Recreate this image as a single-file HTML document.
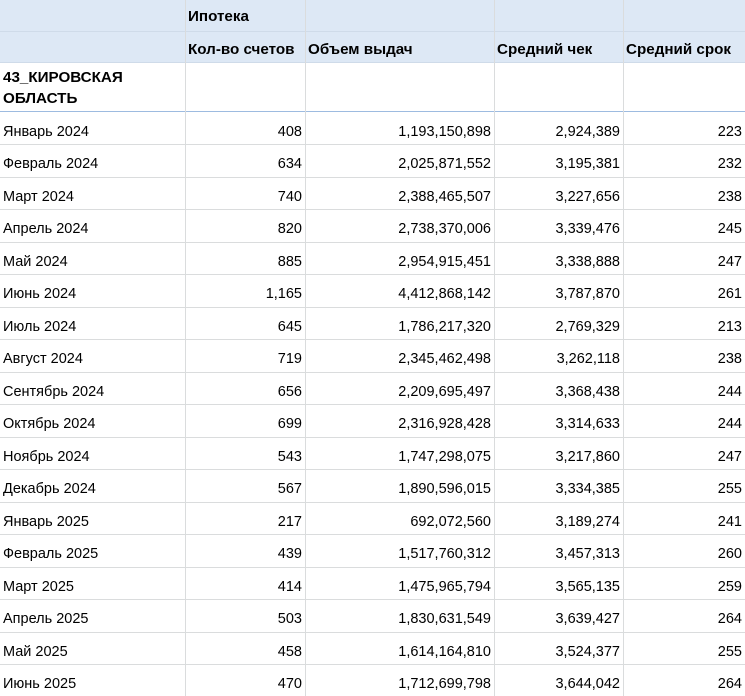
<!DOCTYPE html>
<html><head><meta charset="utf-8"><style>
body{margin:0;width:745px;height:696px;overflow:hidden;background:#fff;font-family:"Liberation Sans","DejaVu Sans",sans-serif;font-size:14.5px;color:#000}
.hd{position:absolute;left:0;top:0;width:745px;height:62px;background:#dde8f5}
.t{position:absolute;white-space:nowrap;line-height:20px}
.r{text-align:right}
.b{font-weight:bold;font-size:15.2px}
.v{position:absolute;width:1px;background:#dadcdd}
.h{position:absolute;left:0;width:745px;height:1px;background:#dadcdd}
</style></head><body>
<div class="hd"></div>
<div class="h" style="top:31px;background:#cfdbe9"></div>
<div class="h" style="top:62px;background:#cfdbe9"></div>
<div class="h" style="top:111px;background:#9dbbe0"></div>
<div class="v" style="left:185px;top:0;height:696px"></div>
<div class="v" style="left:305px;top:0;height:696px"></div>
<div class="v" style="left:494px;top:0;height:696px"></div>
<div class="v" style="left:623px;top:0;height:696px"></div>
<div class="t b" style="left:188px;top:7px">Ипотека</div>
<div class="t b" style="left:188px;top:40px">Кол-во счетов</div>
<div class="t b" style="left:308px;top:40px">Объем выдач</div>
<div class="t b" style="left:497px;top:40px">Средний чек</div>
<div class="t b" style="left:626px;top:40px">Средний срок</div>
<div class="t b" style="left:3px;top:68px">43_КИРОВСКАЯ</div>
<div class="t b" style="left:3px;top:89px">ОБЛАСТЬ</div>
<div id="rows"></div>
<script>
var d=[["Январь 2024","408","1,193,150,898","2,924,389","223"],["Февраль 2024","634","2,025,871,552","3,195,381","232"],["Март 2024","740","2,388,465,507","3,227,656","238"],["Апрель 2024","820","2,738,370,006","3,339,476","245"],["Май 2024","885","2,954,915,451","3,338,888","247"],["Июнь 2024","1,165","4,412,868,142","3,787,870","261"],["Июль 2024","645","1,786,217,320","2,769,329","213"],["Август 2024","719","2,345,462,498","3,262,118","238"],["Сентябрь 2024","656","2,209,695,497","3,368,438","244"],["Октябрь 2024","699","2,316,928,428","3,314,633","244"],["Ноябрь 2024","543","1,747,298,075","3,217,860","247"],["Декабрь 2024","567","1,890,596,015","3,334,385","255"],["Январь 2025","217","692,072,560","3,189,274","241"],["Февраль 2025","439","1,517,760,312","3,457,313","260"],["Март 2025","414","1,475,965,794","3,565,135","259"],["Апрель 2025","503","1,830,631,549","3,639,427","264"],["Май 2025","458","1,614,164,810","3,524,377","255"],["Июнь 2025","470","1,712,699,798","3,644,042","264"]];
var rights=[302,491,620,742],h="";
d.forEach(function(r,i){var top=111.5+32.5*i;if(i>0)h+='<div class="h" style="top:'+top.toFixed(1)+'px"></div>';var ty=top+10;
h+='<div class="t" style="left:3px;top:'+ty+'px">'+r[0]+'</div>';
for(var j=1;j<5;j++)h+='<div class="t r" style="left:'+(rights[j-1]-200)+'px;width:200px;top:'+ty+'px">'+r[j]+'</div>';});
document.getElementById("rows").innerHTML=h;
</script>
</body></html>
